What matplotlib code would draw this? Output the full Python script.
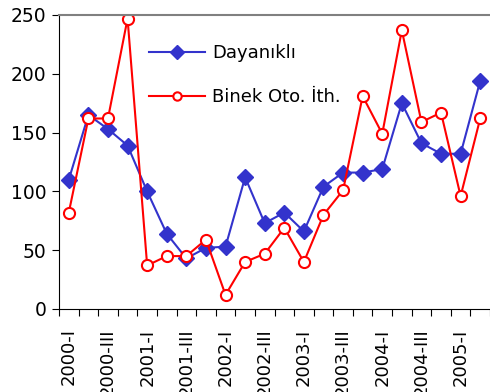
import matplotlib
matplotlib.use('Agg')
import matplotlib.pyplot as plt
from matplotlib.lines import Line2D

quarters = ['2000-I', '2000-II', '2000-III', '2000-IV',
            '2001-I', '2001-II', '2001-III', '2001-IV',
            '2002-I', '2002-II', '2002-III', '2002-IV',
            '2003-I', '2003-II', '2003-III', '2003-IV',
            '2004-I', '2004-II', '2004-III', '2004-IV',
            '2005-I', '2005-II']
dayanikli = [110, 165, 153, 139, 100, 64, 43, 52, 53, 112, 73,
             82, 66, 104, 116, 116, 119, 175, 141, 132, 132, 194]
binek = [82, 162, 162, 247, 37, 45, 45, 59, 12, 40, 47,
         69, 40, 80, 101, 181, 149, 237, 159, 167, 96, 162]

plt.rcParams['font.family'] = ['DejaVu Sans']

fig = plt.figure(figsize=(4.9, 3.92), dpi=100)
ax = fig.add_axes([59/490, 1-309/392, 1-59/490, (309-15)/392])

x = [i + 0.5 for i in range(len(quarters))]
ax.plot(x, dayanikli, color='#3333CC', marker='D', markersize=8, lw=1.5,
        label='Dayanıklı')
ax.plot(x, binek, color='#FF0000', marker='o', markersize=8, lw=1.5,
        markerfacecolor='white', markeredgewidth=1.5, label='Binek Oto. İth.')

ax.set_xlim(0, len(quarters))
ax.set_ylim(0, 250)
ax.set_yticks([0, 50, 100, 150, 200, 250])
ax.tick_params(axis='y', labelsize=13.5, length=5, direction='out', pad=4)

ax.set_xticks(range(len(quarters) + 1), minor=False)
ax.set_xticklabels([])
ax.set_xticks(x[::2], minor=True)
ax.set_xticklabels(quarters[::2], minor=True, rotation=90, fontsize=13)
ax.tick_params(axis='x', which='major', length=5, direction='out')
ax.tick_params(axis='x', which='minor', length=0, pad=14)

ax.spines['right'].set_visible(False)
ax.spines['top'].set_color('#808080')
ax.spines['top'].set_linewidth(1.5)

handles = [Line2D([], [], color='#3333CC', marker='D', markersize=7, lw=1.5),
           Line2D([], [], color='#FF0000', marker='o', markersize=6, lw=1.5,
                  markerfacecolor='white', markeredgewidth=1.5)]
fig.legend(handles, ['Dayanıklı', 'Binek Oto. İth.'], loc='upper left',
           bbox_to_anchor=(149/490, 1-44/392), frameon=False, fontsize=13,
           handlelength=3.1, handletextpad=0.4, labelspacing=1.45,
           borderpad=0, borderaxespad=0)

plt.savefig('out.png', dpi=100)
